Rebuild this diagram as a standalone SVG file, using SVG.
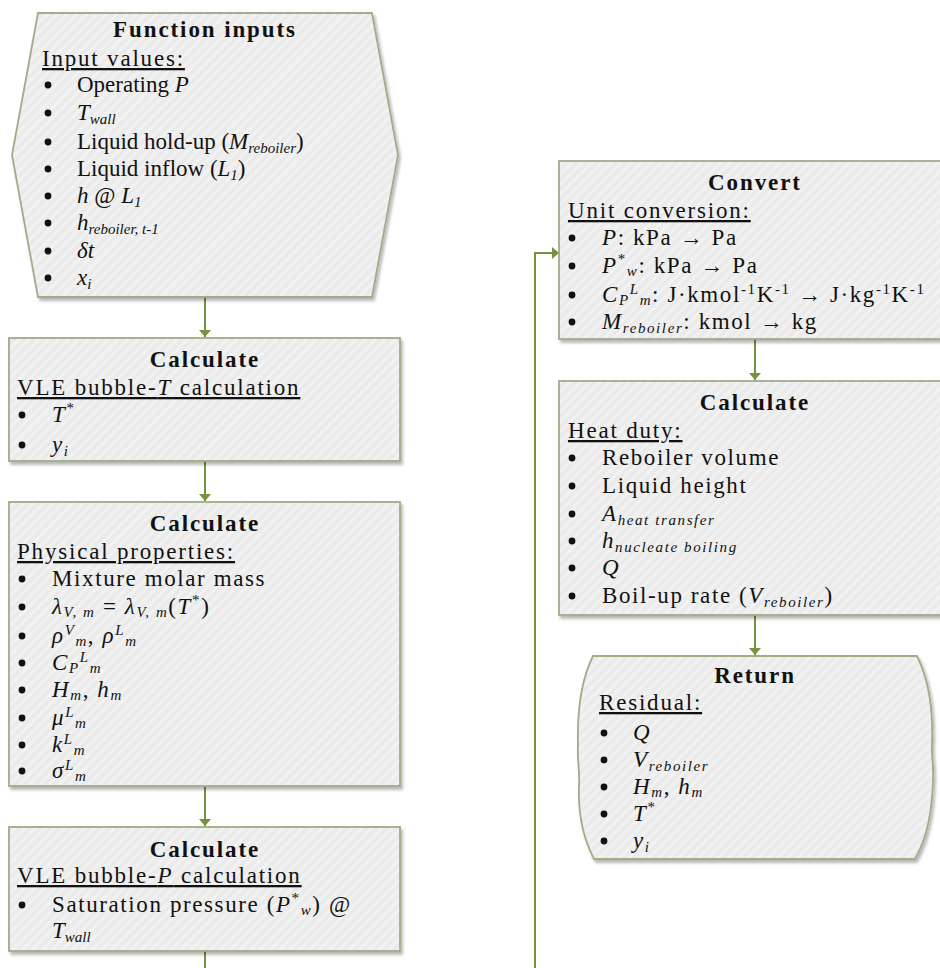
<svg xmlns="http://www.w3.org/2000/svg" width="940" height="968" viewBox="0 0 940 968">
  <style>
    text { font-family: "Liberation Serif", "Times New Roman", serif; fill: #111; }
    .title { font-size: 23px; font-weight: bold; letter-spacing: 1.9px; text-anchor: middle; }
    .head { font-size: 23px; letter-spacing: 1.8px; text-decoration: underline; }
    .item { font-size: 23px; letter-spacing: 1.6px; }
    .plain { font-size: 23px; letter-spacing: 0px; }
    .i { font-style: italic; }
    .sub { font-size: 15px; font-style: italic; }
    .sup { font-size: 15px; }
    .box { fill: url(#hatch); stroke: #a4ab86; stroke-width: 1.8; filter: url(#shadow); }
    .conn { fill: none; stroke: #76923c; stroke-width: 2; }
    .dot { fill: #111; }
  </style>
  <defs>
    <pattern id="hatch" patternUnits="userSpaceOnUse" width="7" height="7" patternTransform="rotate(-45)">
      <rect width="7" height="7" fill="#ebebeb"/>
      <rect width="7" height="3" fill="#f2f2f2"/>
    </pattern>
    <filter id="shadow" x="-5%" y="-5%" width="115%" height="115%">
      <feDropShadow dx="2" dy="3" stdDeviation="1.5" flood-color="#000" flood-opacity="0.28"/>
    </filter>
    <marker id="arrow" markerUnits="userSpaceOnUse" markerWidth="8" markerHeight="14" refX="7" refY="7" orient="auto">
      <path d="M0,1 L7,7 L0,13 Z" fill="#76923c"/>
    </marker>
    <circle id="bullet" class="dot" r="3.4"/>
  </defs>

  <!-- connectors -->
  <g id="connectors">
    <path class="conn" d="M205,297 V337" marker-end="url(#arrow)"/>
    <path class="conn" d="M205,461 V501" marker-end="url(#arrow)"/>
    <path class="conn" d="M205,786 V826" marker-end="url(#arrow)"/>
    <path class="conn" d="M205,951 V968"/>
    <path class="conn" d="M535,968 V253 H559" marker-end="url(#arrow)"/>
    <path class="conn" d="M755,339 V380" marker-end="url(#arrow)"/>
    <path class="conn" d="M755,615 V655" marker-end="url(#arrow)"/>
  </g>

  <!-- function inputs -->
  <g id="function-inputs">
    <path class="box" d="M38,13 L372,13 L398,155 L372,297 L38,297 L12,155 Z"/>
    <text class="title" x="205" y="37">Function inputs</text>
    <text class="head" x="42" y="66">Input values:</text>
    <use href="#bullet" x="48" y="85"/>
    <text class="plain" x="77" y="92">Operating <tspan class="i">P</tspan></text>
    <use href="#bullet" x="48" y="113"/>
    <text class="plain" x="77" y="120"><tspan class="i">T</tspan><tspan class="sub" dy="4">wall</tspan></text>
    <use href="#bullet" x="48" y="142"/>
    <text class="plain" x="77" y="149">Liquid hold-up (<tspan class="i">M</tspan><tspan class="sub" dy="4">reboiler</tspan><tspan dy="-4">)</tspan></text>
    <use href="#bullet" x="48" y="169"/>
    <text class="plain" x="77" y="176">Liquid inflow (<tspan class="i">L</tspan><tspan class="sub" dy="4">1</tspan><tspan dy="-4">)</tspan></text>
    <use href="#bullet" x="48" y="196"/>
    <text class="plain" x="77" y="203"><tspan class="i">h</tspan> @ <tspan class="i">L</tspan><tspan class="sub" dy="4">1</tspan></text>
    <use href="#bullet" x="48" y="223"/>
    <text class="plain" x="77" y="230"><tspan class="i">h</tspan><tspan class="sub" dy="4">reboiler, t-1</tspan></text>
    <use href="#bullet" x="48" y="251"/>
    <text class="plain" x="77" y="258"><tspan class="i">δt</tspan></text>
    <use href="#bullet" x="48" y="278"/>
    <text class="plain" x="77" y="285"><tspan class="i">x</tspan><tspan class="sub" dy="4">i</tspan></text>
  </g>

  <!-- bubble-T -->
  <g id="calc-bubble-t">
    <rect class="box" x="9" y="338" width="391" height="123"/>
    <text class="title" x="205" y="367">Calculate</text>
    <text class="head" x="17" y="395">VLE bubble-<tspan class="i">T</tspan> calculation</text>
    <use href="#bullet" x="22" y="415"/>
    <text class="item" x="52" y="422"><tspan class="i">T</tspan><tspan class="sup" dy="-9">*</tspan></text>
    <use href="#bullet" x="22" y="445"/>
    <text class="item" x="52" y="452"><tspan class="i">y</tspan><tspan class="sub" dy="4">i</tspan></text>
  </g>

  <!-- physical properties -->
  <g id="calc-properties">
    <rect class="box" x="9" y="502" width="391" height="284"/>
    <text class="title" x="205" y="531">Calculate</text>
    <text class="head" x="17" y="559">Physical properties:</text>
    <use href="#bullet" x="22" y="579"/>
    <text class="item" x="52" y="586">Mixture molar mass</text>
    <use href="#bullet" x="22" y="607"/>
    <text class="item" x="52" y="614"><tspan class="i">λ</tspan><tspan class="sub" dy="3">V, m</tspan><tspan dy="-3"> = </tspan><tspan class="i">λ</tspan><tspan class="sub" dy="3">V, m</tspan><tspan dy="-3">(</tspan><tspan class="i">T</tspan><tspan class="sup" dy="-9">*</tspan><tspan dy="9">)</tspan></text>
    <use href="#bullet" x="22" y="636"/>
    <text class="item" x="52" y="643"><tspan class="i">ρ</tspan><tspan class="sup i" dy="-8">V</tspan><tspan class="sub" dy="11">m</tspan><tspan dy="-3">, </tspan><tspan class="i">ρ</tspan><tspan class="sup i" dy="-8">L</tspan><tspan class="sub" dy="11">m</tspan></text>
    <use href="#bullet" x="22" y="663"/>
    <text class="item" x="52" y="670"><tspan class="i">C</tspan><tspan class="sub" dy="3">P</tspan><tspan class="sup i" dy="-11">L</tspan><tspan class="sub" dy="11">m</tspan></text>
    <use href="#bullet" x="22" y="690"/>
    <text class="item" x="52" y="697"><tspan class="i">H</tspan><tspan class="sub" dy="3">m</tspan><tspan dy="-3">, </tspan><tspan class="i">h</tspan><tspan class="sub" dy="3">m</tspan></text>
    <use href="#bullet" x="22" y="718"/>
    <text class="item" x="52" y="725"><tspan class="i">μ</tspan><tspan class="sup i" dy="-8">L</tspan><tspan class="sub" dy="11">m</tspan></text>
    <use href="#bullet" x="22" y="745"/>
    <text class="item" x="52" y="752"><tspan class="i">k</tspan><tspan class="sup i" dy="-8">L</tspan><tspan class="sub" dy="11">m</tspan></text>
    <use href="#bullet" x="22" y="771"/>
    <text class="item" x="52" y="778"><tspan class="i">σ</tspan><tspan class="sup i" dy="-8">L</tspan><tspan class="sub" dy="11">m</tspan></text>
  </g>

  <!-- bubble-P -->
  <g id="calc-bubble-p">
    <rect class="box" x="9" y="827" width="391" height="124"/>
    <text class="title" x="205" y="857">Calculate</text>
    <text class="head" x="17" y="883">VLE bubble-<tspan class="i">P</tspan> calculation</text>
    <use href="#bullet" x="22" y="905"/>
    <text class="item" x="52" y="912">Saturation pressure (<tspan class="i">P</tspan><tspan class="sup" dy="-9">*</tspan><tspan class="sub" dy="12">w</tspan><tspan dy="-3">) @</tspan></text>
    <text class="plain" x="52" y="938"><tspan class="i">T</tspan><tspan class="sub" dy="4">wall</tspan></text>
  </g>

  <!-- unit conversion -->
  <g id="convert">
    <rect class="box" x="559" y="161" width="392" height="178"/>
    <text class="title" x="755" y="190">Convert</text>
    <text class="head" x="568" y="218">Unit conversion:</text>
    <use href="#bullet" x="572" y="238"/>
    <text class="item" x="602" y="245"><tspan class="i">P</tspan>: kPa → Pa</text>
    <use href="#bullet" x="572" y="266"/>
    <text class="item" x="602" y="273"><tspan class="i">P</tspan><tspan class="sup" dy="-9">*</tspan><tspan class="sub" dy="12">w</tspan><tspan dy="-3">: kPa → Pa</tspan></text>
    <use href="#bullet" x="572" y="295"/>
    <text class="item" x="602" y="302"><tspan class="i">C</tspan><tspan class="sub" dy="3">P</tspan><tspan class="sup i" dy="-11">L</tspan><tspan class="sub" dy="11">m</tspan><tspan dy="-3">: J·kmol</tspan><tspan class="sup" dy="-8">-1</tspan><tspan dy="8">K</tspan><tspan class="sup" dy="-8">-1</tspan><tspan dy="8"> → J·kg</tspan><tspan class="sup" dy="-8">-1</tspan><tspan dy="8">K</tspan><tspan class="sup" dy="-8">-1</tspan></text>
    <use href="#bullet" x="572" y="322"/>
    <text class="item" x="602" y="329"><tspan class="i">M</tspan><tspan class="sub" dy="4">reboiler</tspan><tspan dy="-4">: kmol → kg</tspan></text>
  </g>

  <!-- heat duty -->
  <g id="calc-heat-duty">
    <rect class="box" x="559" y="381" width="392" height="234"/>
    <text class="title" x="755" y="410">Calculate</text>
    <text class="head" x="568" y="438">Heat duty:</text>
    <use href="#bullet" x="572" y="458"/>
    <text class="item" x="602" y="465">Reboiler volume</text>
    <use href="#bullet" x="572" y="486"/>
    <text class="item" x="602" y="493">Liquid height</text>
    <use href="#bullet" x="572" y="514"/>
    <text class="item" x="602" y="521"><tspan class="i">A</tspan><tspan class="sub" dy="4">heat transfer</tspan></text>
    <use href="#bullet" x="572" y="541"/>
    <text class="item" x="602" y="548"><tspan class="i">h</tspan><tspan class="sub" dy="4">nucleate boiling</tspan></text>
    <use href="#bullet" x="572" y="568"/>
    <text class="item" x="602" y="575"><tspan class="i">Q</tspan></text>
    <use href="#bullet" x="572" y="596"/>
    <text class="item" x="602" y="603">Boil-up rate (<tspan class="i">V</tspan><tspan class="sub" dy="4">reboiler</tspan><tspan dy="-4">)</tspan></text>
  </g>

  <!-- return -->
  <g id="return">
    <path class="box" d="M593,656 L917,656 C929,680 933,712 932,742 C931,755 934,766 933,780 C932,810 928,836 915,859 L594,859 C582,836 578,812 579,786 C580,770 577,760 578,746 C577,710 581,680 593,656 Z"/>
    <text class="title" x="755" y="683">Return</text>
    <text class="head" x="599" y="710">Residual:</text>
    <use href="#bullet" x="604" y="733"/>
    <text class="item" x="633" y="740"><tspan class="i">Q</tspan></text>
    <use href="#bullet" x="604" y="760"/>
    <text class="item" x="633" y="767"><tspan class="i">V</tspan><tspan class="sub" dy="4">reboiler</tspan></text>
    <use href="#bullet" x="604" y="787"/>
    <text class="item" x="633" y="794"><tspan class="i">H</tspan><tspan class="sub" dy="3">m</tspan><tspan dy="-3">, </tspan><tspan class="i">h</tspan><tspan class="sub" dy="3">m</tspan></text>
    <use href="#bullet" x="604" y="814"/>
    <text class="item" x="633" y="821"><tspan class="i">T</tspan><tspan class="sup" dy="-9">*</tspan></text>
    <use href="#bullet" x="604" y="841"/>
    <text class="item" x="633" y="848"><tspan class="i">y</tspan><tspan class="sub" dy="4">i</tspan></text>
  </g>
</svg>
